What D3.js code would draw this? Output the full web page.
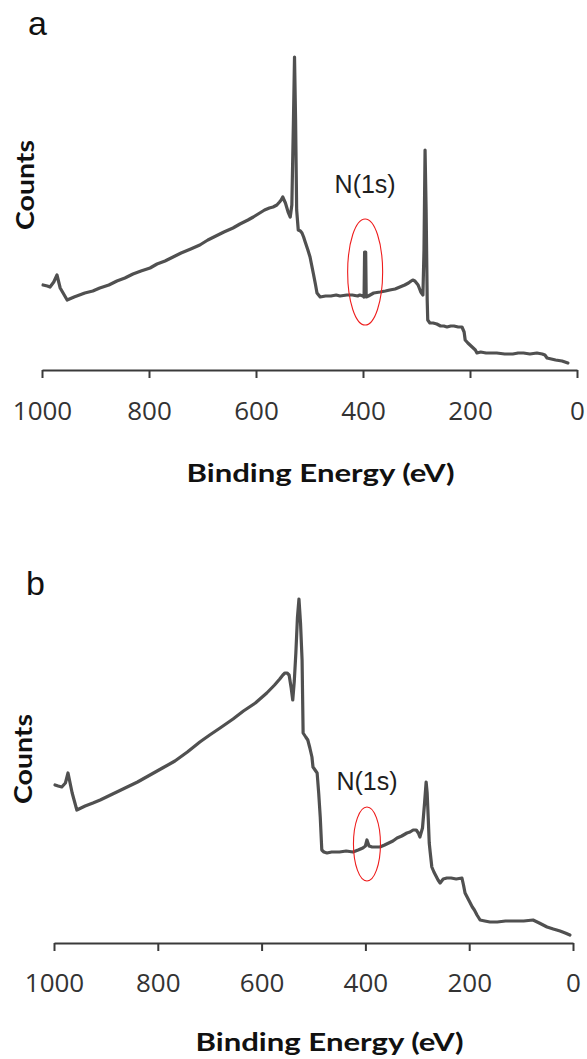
<!DOCTYPE html>
<html><head><meta charset="utf-8">
<script src="https://cdn.jsdelivr.net/npm/d3@7"></script>
<style>
html,body{margin:0;padding:0;background:#fff;}
svg{display:block;}
</style></head>
<body>
<svg id="c" width="587" height="1059"></svg>
<script>
// ---- data ----
const xTicks = [1000, 800, 600, 400, 200, 0];
const panelLabels = ["a", "b"];
const peakLabel = "N(1s)";
const xTitle = "Binding Energy (eV)";
const yTitle = "Counts";

// panel a: [binding energy (eV), counts (arb.)]
const spectrumA = [
 [998,85],[990,84],[985,83],[978,88],[972,95],[966,82],[953,70],[940,73],[920,77],[905,79],[892,82],
 [875,85],[860,89],[845,92],[830,96],[815,99],[798,102],[785,106],[770,109],[755,113],[740,117],
 [722,121],[705,125],[690,130],[675,134],[660,138],[643,142],[630,146],[615,150],[605,153],[593,157],
 [584,160],[575,162],[568,163],[561,165],[556,168],[553,170],[550,173],[545,167],[540,158],[536,153],
 [533,165],[530,250],[528,313],[526,250],[524,160],[521,140],[517,139],[514,137],[511,133],[508,128],
 [503,120],[499,113],[496,105],[493,97],[489,86],[486,77],[480,73],[470,74],[460,74],[450,75],[443,74],
 [430,75],[420,75],[410,74],[406,75],[400,74],[398,73],[397,118],[395,118],[394,73],[390,74],[380,77],
 [368,78],[358,79],[350,80],[340,81],[331,83],[322,85],[315,87],[310,89],[307,90],[303,89],[300,87],
 [297,85],[292,78],[288,75],[286,120],[284,220],[282,160],[280,70],[279,50],[275,47],[269,47],[262,46],
 [255,44],[249,44],[243,43],[236,44],[230,44],[222,43],[215,43],[211,38],[209,30],[204,27],[200,25],
 [196,23],[190,20],[187,17],[180,18],[170,17],[160,17],[150,17],[135,16],[120,16],[110,17],[100,17],
 [88,16],[75,17],[65,16],[60,15],[56,12],[48,11],[40,10],[28,9],[17,7]
];

// panel b: [binding energy (eV), counts (arb.)]
const spectrumB = [
 [998,158],[992,157],[985,156],[978,160],[973,170],[965,150],[956,133],[948,135],[940,137],[925,140],
 [911,143],[887,149],[863,155],[839,161],[815,168],[791,175],[767,182],[743,191],[719,201],[700,208],
 [680,215],[655,224],[635,232],[612,240],[590,250],[575,258],[565,264],
 [559,268],[555,270],[551,270],[547,268],[543,255],[540,243],[537,262],[534,290],[531,325],[528,344],
 [525,320],[522,283],[520,210],[515,206],[511,203],[507,195],[503,186],[501,176],[497,173],[493,170],
 [490,150],[487,126],[484,93],[480,91],[474,90],[465,91],[450,91],[437,92],[424,91],[414,93],[405,95],
 [400,97],[397,103],[393,97],[387,96],[380,96],[372,96],[363,98],[355,100],[347,102],[339,105],
 [330,107],[320,110],[314,111],[308,113],[302,113],[298,110],[295,106],[290,115],[286,140],[283,161],
 [281,150],[279,126],[277,100],[275,90],[272,76],[268,71],[265,68],[260,63],[256,60],[250,64],[243,65],
 [235,65],[225,64],[214,65],[211,58],[208,50],[203,45],[198,40],[194,36],[190,33],[185,28],[179,23],
 [170,22],[160,21],[146,21],[130,22],[110,22],[95,22],[77,23],[65,20],[50,16],[38,14],[25,12],[15,10],[6,8]
];

// N(1s) peak marker positions (eV, counts) and ellipse size
const markA = {eV: 396, counts: 98, rx: 17.5, ry: 53, labelEV: 396, labelCounts: 177};
const markB = {eV: 397, counts: 99, rx: 13.5, ry: 37, labelEV: 397, labelCounts: 153};

// ---- drawing ----
const svg = d3.select("#c");
const lineColor = "#505050";

function panel(cfg) {
  const x = d3.scaleLinear().domain([1000, 0]).range(cfg.xRange);
  const y = d3.scaleLinear().domain([0, 360]).range([cfg.axisY, cfg.axisY - 360]);
  const g = svg.append("g");

  const axis = d3.axisBottom(x).tickValues(xTicks).tickSize(8).tickSizeOuter(0).tickFormat(d3.format("d"));
  const ag = g.append("g").attr("transform", `translate(0,${cfg.axisY})`).call(axis);
  ag.select(".domain").attr("stroke", "#3a3a3a").attr("stroke-width", 2);
  ag.selectAll(".tick line").attr("stroke", "#3a3a3a").attr("stroke-width", 2);
  ag.selectAll(".tick text")
    .attr("y", cfg.tickLabelOffset).attr("dy", 0)
    .attr("fill", "#333")
    .style("font-family", "'Open Sans', sans-serif")
    .style("font-size", "26px");

  const line = d3.line().x(d => x(d[0])).y(d => y(d[1]));
  g.append("path").datum(cfg.data).attr("d", line)
    .attr("fill", "none").attr("stroke", lineColor).attr("stroke-width", 3.2)
    .attr("stroke-linejoin", "round").attr("stroke-linecap", "round");

  const m = cfg.mark;
  g.append("ellipse")
    .attr("cx", x(m.eV)).attr("cy", y(m.counts))
    .attr("rx", m.rx).attr("ry", m.ry)
    .attr("fill", "none").attr("stroke", "#ee1c1c").attr("stroke-width", 1.1);

  g.append("text").attr("x", x(m.labelEV)).attr("y", y(m.labelCounts))
    .attr("text-anchor", "middle")
    .style("font-family", "'Liberation Sans', Arial, sans-serif").style("font-size", "25px")
    .attr("fill", "#1e1e1e").text(peakLabel);

  g.append("text").attr("x", (cfg.xRange[0] + cfg.xRange[1]) / 2 + cfg.titleDx).attr("y", cfg.axisY + cfg.titleOffset)
    .attr("text-anchor", "middle")
    .attr("textLength", 268).attr("lengthAdjust", "spacingAndGlyphs")
    .style("font-family", "Lato, sans-serif").style("font-weight", "bold").style("font-size", "24px")
    .attr("fill", "#111").text(xTitle);

  g.append("text")
    .attr("transform", `translate(${cfg.yTitleX},${cfg.yTitleY}) rotate(-90)`)
    .attr("text-anchor", "middle")
    .attr("textLength", 90).attr("lengthAdjust", "spacingAndGlyphs")
    .style("font-family", "Lato, sans-serif").style("font-weight", "bold").style("font-size", "25px")
    .attr("fill", "#111").text(yTitle);

  g.append("text").attr("x", cfg.letterX).attr("y", cfg.letterY)
    .style("font-family", "'Liberation Sans', Arial, sans-serif").style("font-size", "34px")
    .attr("fill", "#111").text(cfg.letter);
}

panel({data: spectrumA, xRange: [42, 577], axisY: 370, tickLabelOffset: 50, titleOffset: 112, titleDx: 11,
       mark: markA, yTitleX: 34, yTitleY: 185, letter: panelLabels[0], letterX: 28, letterY: 35});
panel({data: spectrumB, xRange: [54, 573], axisY: 943, tickLabelOffset: 49, titleOffset: 108, titleDx: 16,
       mark: markB, yTitleX: 32, yTitleY: 759, letter: panelLabels[1], letterX: 26, letterY: 595});
</script>
</body></html>
